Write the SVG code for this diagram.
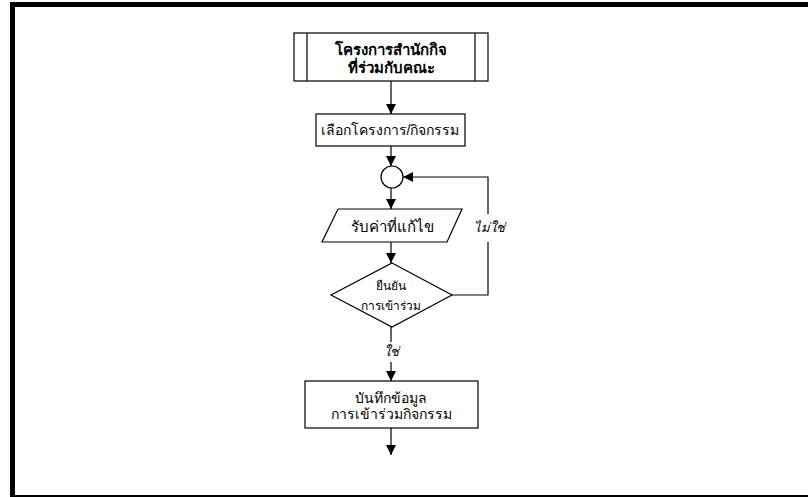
<svg xmlns="http://www.w3.org/2000/svg" width="808" height="497" viewBox="0 0 808 497">
<defs>
<style>
.shape{fill:#fff;stroke:#000;stroke-width:1.2}
.line{fill:none;stroke:#000;stroke-width:1.2}
text{font-family:"Liberation Sans","DejaVu Sans",sans-serif;fill:#000;text-anchor:middle}
.t{font-size:14px}
.b{font-size:15px;font-weight:bold}
.s{font-size:12px}
.i{font-size:13px;font-style:italic}
</style>
<marker id="arr" viewBox="0 0 10 10" refX="10" refY="5" markerWidth="10" markerHeight="10" markerUnits="userSpaceOnUse" orient="auto">
<path d="M0,0 L10,5 L0,10 z" fill="#000"/>
</marker>
</defs>
<rect x="0" y="0" width="808" height="497" fill="#fff"/>
<rect x="12.5" y="4.5" width="810" height="493" fill="none" stroke="#000" stroke-width="5"/>

<g id="connectors">
<line class="line" x1="391" y1="81" x2="391" y2="114" marker-end="url(#arr)"/>
<line class="line" x1="391" y1="146" x2="391" y2="166" marker-end="url(#arr)"/>
<line class="line" x1="391" y1="188" x2="391" y2="209" marker-end="url(#arr)"/>
<line class="line" x1="391" y1="242" x2="391" y2="263" marker-end="url(#arr)"/>
<polyline class="line" points="452,295 488,295 488,177 403,177" marker-end="url(#arr)"/>
<line class="line" x1="391" y1="327" x2="391" y2="381" marker-end="url(#arr)"/>
<line class="line" x1="391" y1="428" x2="391" y2="455" marker-end="url(#arr)"/>
<rect x="472" y="214" width="33" height="28" fill="#fff"/>
<text class="i" x="489" y="232">ไม่ใช่</text>
<rect x="378" y="342" width="26" height="20" fill="#fff"/>
<text class="i" x="391" y="356">ใช่</text>
</g>

<g id="start">
<rect class="shape" x="294" y="33" width="194" height="48"/>
<line class="line" x1="307" y1="33" x2="307" y2="81"/>
<line class="line" x1="475" y1="33" x2="475" y2="81"/>
<text class="b" x="391" y="55">โครงการสำนักกิจ</text>
<text class="b" x="391" y="73">ที่ร่วมกับคณะ</text>
</g>

<g id="select">
<rect class="shape" x="316" y="114" width="149" height="32"/>
<text class="t" x="390" y="135">เลือกโครงการ/กิจกรรม</text>
</g>

<g id="connector-circle">
<circle class="shape" cx="392" cy="177" r="11"/>
</g>

<g id="input">
<polygon class="shape" points="338,209 462,209 447,242 322,242"/>
<text class="t" x="392" y="232" style="font-size:15px">รับค่าที่แก้ไข</text>
</g>

<g id="decision">
<polygon class="shape" points="392,263 452,295 392,327 331,295"/>
<text class="s" x="391" y="290">ยืนยัน</text>
<text class="s" x="391" y="310">การเข้าร่วม</text>
</g>

<g id="save">
<rect class="shape" x="305" y="381" width="173" height="47"/>
<text class="t" x="391" y="403">บันทึกข้อมูล</text>
<text class="t" x="391" y="419">การเข้าร่วมกิจกรรม</text>
</g>
</svg>
